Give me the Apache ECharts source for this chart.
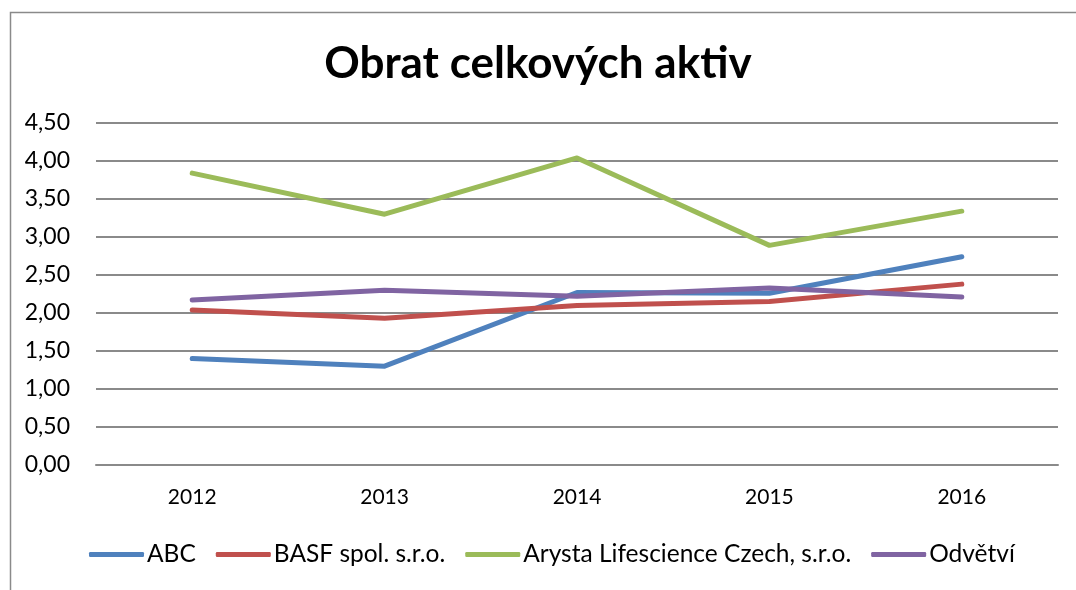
<!DOCTYPE html>
<html>
<head>
<meta charset="utf-8">
<script src="https://cdn.jsdelivr.net/npm/echarts@6/dist/echarts.min.js"></script>
<style>
  html, body { margin: 0; padding: 0; background: #fff; }
  #chart { width: 1076px; height: 590px; }
</style>
</head>
<body>
<div id="chart"></div>
<script>
  // roky
  var years = ['2012', '2013', '2014', '2015', '2016'];
  var seriesNames = ['ABC', 'BASF spol. s.r.o.', 'Arysta Lifescience Czech, s.r.o.', 'Odvětví'];
  var abc = [1.40, 1.30, 2.27, 2.26, 2.74];
  var basf = [2.04, 1.93, 2.10, 2.15, 2.38];
  var arysta = [3.84, 3.30, 4.04, 2.89, 3.34];
  var odvetvi = [2.17, 2.30, 2.22, 2.33, 2.21];
  var colors = ['#4F81BD', '#C0504D', '#9BBB59', '#8064A2'];

  var font = 'Lato, "Open Sans", sans-serif';
  var myChart = echarts.init(document.getElementById('chart'));

  function line(name, data, color) {
    return {
      name: name,
      type: 'line',
      data: data,
      symbol: 'none',
      lineStyle: { width: 5, color: color, cap: 'round', join: 'round' },
      itemStyle: { color: color },
      animation: false
    };
  }

  var option = {
    backgroundColor: '#fff',
    graphic: [{
      type: 'rect',
      left: 8, top: 10,
      shape: { width: 1100, height: 620 },
      style: { fill: 'none', stroke: '#8a8a8a', lineWidth: 1.5 },
      silent: true
    }],
    title: {
      text: 'Obrat celkových aktiv',
      left: 'center',
      top: 37,
      textStyle: { fontFamily: font, fontWeight: 'bold', fontSize: 44, color: '#000' }
    },
    legend: {
      bottom: 18,
      left: 84,
      icon: 'roundRect',
      itemWidth: 55,
      itemHeight: 5,
      itemGap: 20,
      textStyle: { fontFamily: font, fontSize: 24.5, color: '#000', padding: [0, 0, 0, -2] },
      data: seriesNames
    },
    grid: { left: 96, right: 18, top: 123, bottom: 125 },
    xAxis: {
      type: 'category',
      data: years,
      boundaryGap: true,
      axisLine: { show: true, lineStyle: { color: '#8a8a8a', width: 2 } },
      axisTick: { show: false },
      axisLabel: { fontFamily: font, fontSize: 21, color: '#000', margin: 22 }
    },
    yAxis: {
      type: 'value',
      min: 0, max: 4.5, interval: 0.5,
      axisLine: { show: false },
      axisTick: { show: false },
      axisLabel: {
        fontFamily: font, fontSize: 23, color: '#000', margin: 26,
        formatter: function (v) { return v.toFixed(2).replace('.', ','); }
      },
      splitLine: { lineStyle: { color: '#8a8a8a', width: 2 } }
    },
    series: [
      line(seriesNames[0], abc, colors[0]),
      line(seriesNames[1], basf, colors[1]),
      line(seriesNames[2], arysta, colors[2]),
      line(seriesNames[3], odvetvi, colors[3])
    ]
  };

  myChart.setOption(option);
</script>
</body>
</html>
